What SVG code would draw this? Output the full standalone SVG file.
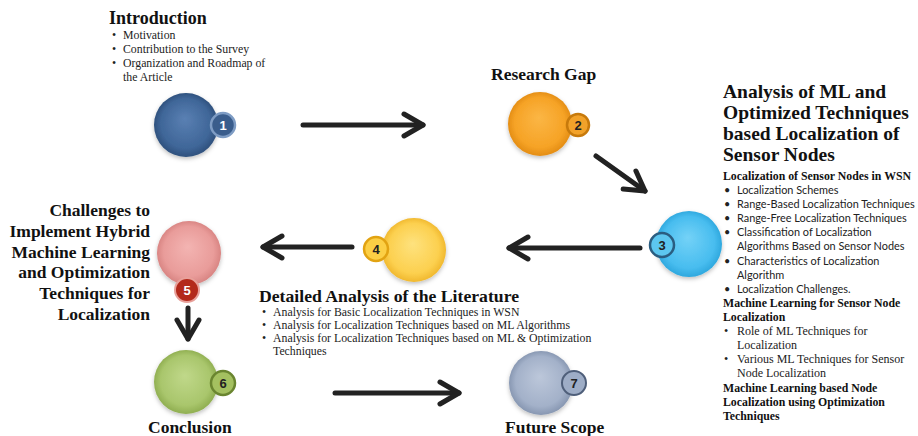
<svg xmlns="http://www.w3.org/2000/svg" width="918" height="436" viewBox="0 0 918 436">
  <defs>
    <style>
      .h1 { font-family: "Liberation Serif", "Times New Roman", serif; font-weight: bold; font-size: 17.5px; fill: #111; }
      .h3 { font-family: "Liberation Serif", "Times New Roman", serif; font-weight: bold; font-size: 19.5px; fill: #111; }
      .sub { font-family: "Liberation Serif", "Times New Roman", serif; font-weight: bold; font-size: 11.8px; fill: #111; }
      .tx { font-family: "Liberation Serif", "Times New Roman", serif; font-size: 11.8px; fill: #222; }
      .txs { font-family: "Liberation Serif", "Times New Roman", serif; font-size: 12px; fill: #222; }
      .sans { font-family: Lato, "Liberation Sans", sans-serif; font-size: 10.9px; fill: #222; }
      .num { font-family: "Liberation Sans", Arial, sans-serif; font-weight: bold; font-size: 13px; text-anchor: middle; }
      .arrow { fill: none; stroke: #222; stroke-width: 5; stroke-linecap: round; marker-end: url(#head); }
      .ball { filter: url(#shadow); }
    </style>
    <marker id="head" viewBox="-26 -15 30 30" markerUnits="userSpaceOnUse" markerWidth="30" markerHeight="30" refX="0" refY="0" orient="auto" overflow="visible">
      <path d="M-19,-11 L0,0 L-19,11" fill="none" stroke="#222" stroke-width="5" stroke-linecap="round" stroke-linejoin="round"/>
    </marker>
    <filter id="shadow" x="-30%" y="-30%" width="160%" height="170%">
      <feDropShadow dx="0" dy="2" stdDeviation="2" flood-color="#000" flood-opacity="0.25"/>
    </filter>
    <radialGradient id="gBlue" cx="50%" cy="50%" r="52%" fx="48%" fy="40%">
      <stop offset="0" stop-color="#5a80b3"/>
      <stop offset="0.75" stop-color="#3f6698"/>
      <stop offset="1" stop-color="#2c4d79"/>
    </radialGradient>
    <radialGradient id="gOrange" cx="50%" cy="50%" r="52%" fx="48%" fy="40%">
      <stop offset="0" stop-color="#fbb645"/>
      <stop offset="0.75" stop-color="#f6a326"/>
      <stop offset="1" stop-color="#e18a12"/>
    </radialGradient>
    <radialGradient id="gCyan" cx="50%" cy="50%" r="52%" fx="48%" fy="40%">
      <stop offset="0" stop-color="#74d2f7"/>
      <stop offset="0.75" stop-color="#48bdef"/>
      <stop offset="1" stop-color="#2ba5dc"/>
    </radialGradient>
    <radialGradient id="gYellow" cx="50%" cy="50%" r="52%" fx="48%" fy="40%">
      <stop offset="0" stop-color="#fee27e"/>
      <stop offset="0.75" stop-color="#fcd04f"/>
      <stop offset="1" stop-color="#efb52a"/>
    </radialGradient>
    <radialGradient id="gPink" cx="50%" cy="50%" r="52%" fx="48%" fy="40%">
      <stop offset="0" stop-color="#f3b4b2"/>
      <stop offset="0.75" stop-color="#e99c9a"/>
      <stop offset="1" stop-color="#d6817f"/>
    </radialGradient>
    <radialGradient id="gGreen" cx="50%" cy="50%" r="52%" fx="48%" fy="40%">
      <stop offset="0" stop-color="#c0d88a"/>
      <stop offset="0.75" stop-color="#a9c66c"/>
      <stop offset="1" stop-color="#8cab4d"/>
    </radialGradient>
    <radialGradient id="gGrey" cx="50%" cy="50%" r="52%" fx="48%" fy="40%">
      <stop offset="0" stop-color="#bcc7da"/>
      <stop offset="0.75" stop-color="#a3b1c9"/>
      <stop offset="1" stop-color="#8393ae"/>
    </radialGradient>
  </defs>

  <rect width="918" height="436" fill="#ffffff"/>

  <!-- connectors -->
  <g id="connectors">
    <path class="arrow" d="M303,125 L423,125"/>
    <path class="arrow" d="M596,156 L645,191"/>
    <path class="arrow" d="M640,248 L509,248"/>
    <path class="arrow" d="M352,247 L263,247"/>
    <path class="arrow" d="M188,308 L188,339"/>
    <path class="arrow" d="M335,393 L459,393"/>
  </g>

  <!-- 1: Introduction -->
  <g id="node-introduction">
    <circle class="ball" cx="186" cy="125" r="32" fill="url(#gBlue)"/>
    <circle cx="223" cy="125" r="12" fill="#3a5d8c" stroke="#7e9cc4" stroke-width="2.5"/>
    <text class="num" x="223" y="130" fill="#fff">1</text>
    <text class="h1" x="109" y="24" style="font-size:18px">Introduction</text>
    <text class="tx"><tspan x="112" y="39">•</tspan><tspan x="123" y="39">Motivation</tspan><tspan x="112" y="53">•</tspan><tspan x="123" y="53">Contribution to the Survey</tspan><tspan x="112" y="67">•</tspan><tspan x="123" y="67">Organization and Roadmap of</tspan><tspan x="123" y="81">the Article</tspan></text>
  </g>

  <!-- 2: Research Gap -->
  <g id="node-research-gap">
    <circle class="ball" cx="540" cy="124" r="32" fill="url(#gOrange)"/>
    <circle cx="578" cy="125" r="11" fill="#f2a22a" stroke="#c77a0c" stroke-width="2.5"/>
    <text class="num" x="578" y="130" fill="#222">2</text>
    <text class="h1" x="491" y="80">Research Gap</text>
  </g>

  <!-- 3: Analysis of ML and optimized techniques -->
  <g id="node-analysis">
    <circle class="ball" cx="689" cy="244" r="33" fill="url(#gCyan)"/>
    <circle cx="662" cy="245" r="12" fill="#5cc6ef" stroke="#2a5d80" stroke-width="2.5"/>
    <text class="num" x="662" y="250" fill="#222">3</text>
    <text class="h3"><tspan x="723" y="98">Analysis of ML and</tspan><tspan x="723" y="119">Optimized Techniques</tspan><tspan x="723" y="140">based Localization of</tspan><tspan x="723" y="161">Sensor Nodes</tspan></text>
    <text class="sub" x="723" y="180">Localization of Sensor Nodes in WSN</text>
    <text class="sans"><tspan x="724" y="194">•</tspan><tspan x="737" y="194">Localization Schemes</tspan><tspan x="724" y="208">•</tspan><tspan x="737" y="208">Range-Based Localization Techniques</tspan><tspan x="724" y="222">•</tspan><tspan x="737" y="222">Range-Free Localization Techniques</tspan><tspan x="724" y="236">•</tspan><tspan x="737" y="236">Classification of Localization</tspan><tspan x="737" y="250">Algorithms Based on Sensor Nodes</tspan><tspan x="724" y="265">•</tspan><tspan x="737" y="265">Characteristics of Localization</tspan><tspan x="737" y="279">Algorithm</tspan><tspan x="724" y="293">•</tspan><tspan x="737" y="293">Localization Challenges.</tspan></text>
    <text class="sub"><tspan x="723" y="307">Machine Learning for Sensor Node</tspan><tspan x="723" y="321">Localization</tspan></text>
    <text class="txs"><tspan x="724" y="335">•</tspan><tspan x="737" y="335">Role of ML Techniques for</tspan><tspan x="737" y="349">Localization</tspan><tspan x="724" y="363">•</tspan><tspan x="737" y="363">Various ML Techniques for Sensor</tspan><tspan x="737" y="377">Node Localization</tspan></text>
    <text class="sub"><tspan x="723" y="392">Machine Learning based Node</tspan><tspan x="723" y="406">Localization using Optimization</tspan><tspan x="723" y="420">Techniques</tspan></text>
  </g>

  <!-- 4: Detailed Analysis of the Literature -->
  <g id="node-literature">
    <circle class="ball" cx="414" cy="250" r="32" fill="url(#gYellow)"/>
    <circle cx="376" cy="249" r="12" fill="#fccf45" stroke="#e2a312" stroke-width="2.5"/>
    <text class="num" x="376" y="254" fill="#222">4</text>
    <text class="h1" x="259" y="302" style="font-size:17.7px">Detailed Analysis of the Literature</text>
    <text class="tx"><tspan x="262" y="316">•</tspan><tspan x="273" y="316">Analysis for Basic Localization Techniques in WSN</tspan><tspan x="262" y="329">•</tspan><tspan x="273" y="329">Analysis for Localization Techniques based on ML Algorithms</tspan><tspan x="262" y="342">•</tspan><tspan x="273" y="342">Analysis for Localization Techniques based on ML &amp; Optimization</tspan><tspan x="273" y="355">Techniques</tspan></text>
  </g>

  <!-- 5: Challenges -->
  <g id="node-challenges">
    <circle class="ball" cx="189" cy="253" r="32" fill="url(#gPink)"/>
    <circle cx="187" cy="290" r="12" fill="#b3291b" stroke="#e8a09a" stroke-width="2"/>
    <text class="num" x="187" y="295" fill="#fff">5</text>
    <text class="h1" text-anchor="end"><tspan x="150" y="216">Challenges to</tspan><tspan x="150" y="237">Implement Hybrid</tspan><tspan x="150" y="258">Machine Learning</tspan><tspan x="150" y="278">and Optimization</tspan><tspan x="150" y="299">Techniques for</tspan><tspan x="150" y="320">Localization</tspan></text>
  </g>

  <!-- 6: Conclusion -->
  <g id="node-conclusion">
    <circle class="ball" cx="186" cy="382" r="32" fill="url(#gGreen)"/>
    <circle cx="223" cy="383" r="12" fill="#a4c060" stroke="#6a8530" stroke-width="2.5"/>
    <text class="num" x="223" y="388" fill="#222">6</text>
    <text class="h1" x="148" y="433">Conclusion</text>
  </g>

  <!-- 7: Future Scope -->
  <g id="node-future">
    <circle class="ball" cx="541" cy="383" r="32" fill="url(#gGrey)"/>
    <circle cx="574" cy="383" r="12" fill="#9eadc6" stroke="#4f5f7a" stroke-width="2"/>
    <text class="num" x="574" y="388" fill="#222">7</text>
    <text class="h1" x="505" y="433">Future Scope</text>
  </g>
</svg>
